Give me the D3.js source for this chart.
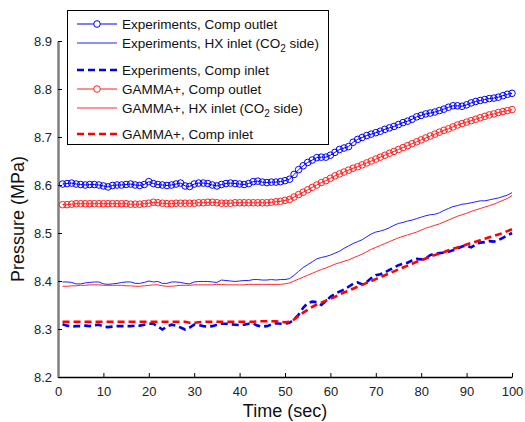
<!DOCTYPE html>
<html>
<head>
<meta charset="utf-8">
<script src="https://cdn.jsdelivr.net/npm/d3@7"></script>
<style>
  body { margin: 0; background: #fff; }
  svg { display: block; font-family: "Liberation Sans", Arial, sans-serif; }
</style>
</head>
<body>
<div id="chart"></div>
<script>
// time samples (sec), one per second
const TIME = d3.range(1, 101);

// Pressure (MPa), t = 1..100
const expOutlet = [
  8.602,8.603,8.604,8.602,8.601,8.600,8.601,8.601,8.600,8.598,
  8.596,8.599,8.600,8.600,8.601,8.602,8.600,8.599,8.601,8.607,
  8.603,8.601,8.600,8.599,8.600,8.602,8.604,8.598,8.597,8.602,
  8.604,8.604,8.603,8.600,8.598,8.601,8.603,8.604,8.603,8.602,
  8.601,8.603,8.607,8.608,8.606,8.605,8.606,8.606,8.607,8.609,
  8.612,8.622,8.632,8.640,8.647,8.652,8.657,8.658,8.658,8.662,
  8.668,8.674,8.677,8.680,8.689,8.695,8.699,8.703,8.706,8.709,
  8.712,8.716,8.719,8.722,8.726,8.730,8.733,8.737,8.742,8.745,
  8.748,8.750,8.752,8.755,8.758,8.762,8.765,8.765,8.764,8.767,
  8.771,8.774,8.776,8.778,8.780,8.781,8.783,8.786,8.789,8.791
];
const expHX = [
  8.398,8.398,8.397,8.394,8.394,8.396,8.397,8.398,8.398,8.394,
  8.393,8.394,8.395,8.397,8.398,8.398,8.395,8.395,8.397,8.400,
  8.398,8.399,8.395,8.395,8.398,8.398,8.397,8.395,8.394,8.398,
  8.399,8.399,8.399,8.398,8.397,8.402,8.401,8.400,8.399,8.400,
  8.401,8.401,8.403,8.403,8.402,8.402,8.403,8.402,8.403,8.403,
  8.405,8.412,8.420,8.428,8.434,8.440,8.446,8.449,8.451,8.454,
  8.458,8.462,8.468,8.473,8.478,8.482,8.486,8.492,8.498,8.502,
  8.504,8.507,8.511,8.516,8.520,8.522,8.525,8.527,8.530,8.533,
  8.536,8.538,8.539,8.542,8.547,8.551,8.555,8.557,8.560,8.561,
  8.563,8.565,8.567,8.567,8.569,8.571,8.573,8.576,8.579,8.584
];
const expInlet = [
  8.310,8.307,8.305,8.306,8.306,8.307,8.306,8.308,8.309,8.305,
  8.304,8.305,8.306,8.306,8.306,8.306,8.307,8.307,8.309,8.311,
  8.311,8.305,8.299,8.305,8.309,8.307,8.303,8.299,8.303,8.309,
  8.308,8.306,8.305,8.306,8.309,8.311,8.311,8.310,8.309,8.308,
  8.309,8.311,8.311,8.307,8.305,8.306,8.309,8.312,8.311,8.311,
  8.313,8.320,8.330,8.344,8.354,8.357,8.356,8.350,8.358,8.367,
  8.373,8.378,8.382,8.388,8.394,8.397,8.393,8.398,8.406,8.412,
  8.414,8.418,8.423,8.428,8.433,8.436,8.438,8.443,8.446,8.445,
  8.447,8.454,8.457,8.458,8.459,8.461,8.464,8.468,8.472,8.474,
  8.470,8.476,8.480,8.481,8.483,8.482,8.485,8.490,8.495,8.500
];
const gamOutlet = [
  8.559,8.559,8.560,8.561,8.561,8.561,8.561,8.561,8.561,8.561,
  8.561,8.561,8.561,8.561,8.561,8.560,8.560,8.560,8.561,8.562,
  8.564,8.563,8.562,8.561,8.561,8.562,8.562,8.562,8.562,8.562,
  8.563,8.563,8.564,8.564,8.563,8.562,8.562,8.562,8.563,8.563,
  8.563,8.563,8.563,8.563,8.563,8.563,8.564,8.565,8.566,8.568,
  8.570,8.575,8.580,8.585,8.590,8.595,8.600,8.605,8.609,8.614,
  8.619,8.623,8.627,8.631,8.635,8.638,8.642,8.646,8.650,8.654,
  8.658,8.662,8.666,8.670,8.674,8.678,8.682,8.686,8.690,8.694,
  8.698,8.702,8.706,8.710,8.714,8.717,8.721,8.725,8.728,8.731,
  8.734,8.737,8.740,8.743,8.746,8.748,8.751,8.753,8.755,8.757
];
const gamHX = [
  8.389,8.389,8.390,8.390,8.391,8.391,8.392,8.392,8.392,8.391,
  8.391,8.391,8.391,8.391,8.390,8.390,8.389,8.389,8.390,8.391,
  8.392,8.392,8.390,8.389,8.389,8.390,8.391,8.391,8.391,8.392,
  8.392,8.392,8.392,8.392,8.393,8.393,8.392,8.392,8.392,8.392,
  8.392,8.393,8.393,8.393,8.393,8.393,8.393,8.393,8.393,8.394,
  8.396,8.400,8.404,8.408,8.412,8.416,8.420,8.424,8.427,8.431,
  8.435,8.438,8.441,8.444,8.448,8.452,8.456,8.461,8.466,8.470,
  8.474,8.478,8.482,8.486,8.490,8.493,8.496,8.499,8.502,8.506,
  8.510,8.513,8.516,8.519,8.523,8.527,8.531,8.535,8.538,8.541,
  8.545,8.548,8.551,8.554,8.557,8.560,8.564,8.568,8.572,8.578
];
const gamInlet = [
  8.315,8.315,8.315,8.315,8.315,8.315,8.315,8.315,8.315,8.315,
  8.315,8.315,8.315,8.315,8.315,8.315,8.315,8.315,8.315,8.315,
  8.315,8.315,8.315,8.315,8.315,8.315,8.315,8.315,8.313,8.313,
  8.314,8.315,8.315,8.315,8.315,8.315,8.315,8.315,8.315,8.315,
  8.315,8.315,8.315,8.316,8.316,8.316,8.316,8.316,8.315,8.314,
  8.315,8.320,8.327,8.334,8.340,8.346,8.351,8.355,8.359,8.363,
  8.367,8.372,8.376,8.380,8.384,8.388,8.392,8.396,8.400,8.404,
  8.408,8.412,8.416,8.420,8.424,8.428,8.432,8.436,8.440,8.443,
  8.447,8.451,8.454,8.457,8.460,8.464,8.467,8.470,8.473,8.476,
  8.479,8.482,8.485,8.488,8.491,8.494,8.497,8.500,8.504,8.508
];

const X_TICKS = [0, 10, 20, 30, 40, 50, 60, 70, 80, 90, 100];
const Y_TICKS = [8.2, 8.3, 8.4, 8.5, 8.6, 8.7, 8.8, 8.9];

const SERIES = [
  { name: 'Experiments, Comp outlet', values: expOutlet, color: '#0000ff', width: 1, dash: null, marker: true },
  { name: 'Experiments, HX inlet (CO|2| side)', values: expHX, color: '#2020ff', width: 1, dash: null, marker: false },
  { name: 'Experiments, Comp inlet', values: expInlet, color: '#0000ee', width: 2.6, dash: '7 4', marker: false },
  { name: 'GAMMA+, Comp outlet', values: gamOutlet, color: '#ff2020', width: 1, dash: null, marker: true },
  { name: 'GAMMA+, HX inlet (CO|2| side)', values: gamHX, color: '#ff2a2a', width: 1, dash: null, marker: false },
  { name: 'GAMMA+, Comp inlet', values: gamInlet, color: '#ff0000', width: 2.6, dash: '7 4', marker: false },
];

const W = 525, H = 422;
const M = { top: 41, right: 13, bottom: 45, left: 58 };

const svg = d3.select('#chart').append('svg').attr('width', W).attr('height', H);

const x = d3.scaleLinear().domain([0, 100]).range([M.left, W - M.right]);
const y = d3.scaleLinear().domain([8.2, 8.9]).range([H - M.bottom, M.top]);

// axes
const xAxis = svg.append('g').attr('transform', `translate(0,${y(8.2)})`)
  .call(d3.axisBottom(x).tickValues(X_TICKS).tickSizeInner(-4).tickSizeOuter(0).tickPadding(10));
xAxis.select('.domain').attr('stroke', '#000').attr('stroke-width', 1.5);
xAxis.selectAll('.tick line').attr('stroke', '#000');
xAxis.selectAll('.tick text').attr('font-size', 13).attr('fill', '#222')
  .attr('font-family', '"Liberation Sans", Arial, sans-serif');

const yAxis = svg.append('g').attr('transform', `translate(${x(0)},0)`)
  .call(d3.axisLeft(y).tickValues(Y_TICKS).tickFormat(d3.format('.1f')).tickSizeInner(-4).tickSizeOuter(0).tickPadding(6));
yAxis.select('.domain').attr('stroke', '#7f7f7f').attr('stroke-width', 2.5);
yAxis.selectAll('.tick line').attr('stroke', '#000');
yAxis.selectAll('.tick text').attr('font-size', 13).attr('fill', '#222')
  .attr('font-family', '"Liberation Sans", Arial, sans-serif');

svg.append('text')
  .attr('x', (x(0) + x(100)) / 2).attr('y', 417).attr('text-anchor', 'middle')
  .attr('font-size', 18).attr('fill', '#111').text('Time (sec)');
svg.append('text')
  .attr('transform', `translate(24,${(y(8.2) + y(8.9)) / 2 + 10}) rotate(-90)`)
  .attr('text-anchor', 'middle').attr('font-size', 18).attr('fill', '#111')
  .text('Pressure (MPa)');

// series
const line = d3.line().x((d, i) => x(TIME[i])).y(d => y(d));
const plot = svg.append('g');
SERIES.forEach(s => {
  plot.append('path').datum(s.values)
    .attr('fill', 'none').attr('stroke', s.color)
    .attr('stroke-width', s.width)
    .attr('stroke-dasharray', s.dash)
    .attr('d', line);
  if (s.marker) {
    plot.append('g').selectAll('circle').data(s.values).join('circle')
      .attr('cx', (d, i) => x(TIME[i])).attr('cy', d => y(d))
      .attr('r', 3.3).attr('fill', 'none')
      .attr('stroke', s.color).attr('stroke-width', 1);
  }
});

// legend
const LEG_Y = [24, 43, 70, 89, 108, 134];
const leg = svg.append('g');
leg.append('rect').attr('x', 67.5).attr('y', 10.5).attr('width', 261).attr('height', 134)
  .attr('fill', '#fff').attr('stroke', '#000').attr('stroke-width', 1);
SERIES.forEach((s, i) => {
  const g = leg.append('g').attr('transform', `translate(0,${LEG_Y[i]})`);
  g.append('line').attr('x1', 77).attr('x2', 117).attr('y1', 0).attr('y2', 0)
    .attr('stroke', s.color).attr('stroke-width', s.width).attr('stroke-dasharray', s.dash);
  if (s.marker) {
    g.append('circle').attr('cx', 97).attr('cy', 0).attr('r', 3.3)
      .attr('fill', '#fff').attr('stroke', s.color);
  }
  const t = g.append('text').attr('x', 122).attr('y', 5).attr('font-size', 13.5).attr('fill', '#111');
  s.name.split('|').forEach((part, k) => {
    const ts = t.append('tspan').text(part);
    if (k === 1) ts.attr('dy', 4).attr('font-size', 10);
    if (k === 2) ts.attr('dy', -4);
  });
});
</script>
</body>
</html>
